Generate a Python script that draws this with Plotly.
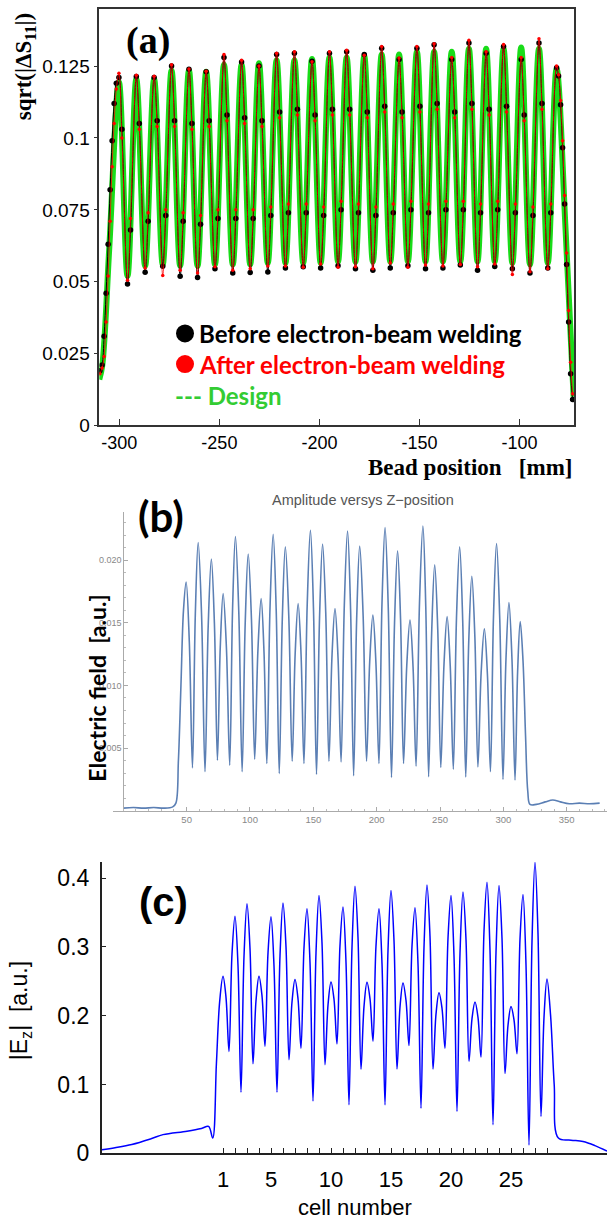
import plotly.graph_objects as go

W, H = 607, 1232

# ---------------- Panel (a): bead-pull sqrt(|dS11|) ----------------
A_START_X = [-309.7, -308.6, -307.6, -306.6, -305.6, -304.6, -303.6, -302.6, -301.5]
A_START_BEFORE = [0.019, 0.021, 0.031, 0.046, 0.063, 0.082, 0.099, 0.112, 0.119]
A_START_AFTER = [0.018, 0.020, 0.024, 0.036, 0.052, 0.071, 0.090, 0.105, 0.117]

A_PEAK_X = [-300.2, -291.5, -282.6, -273.9, -265.2, -256.6, -247.7, -238.9, -230.2, -221.4,
            -212.5, -203.7, -195.0, -186.4, -177.6, -168.9, -160.2, -151.3, -142.7, -133.9,
            -125.3, -116.7, -108.0, -99.2, -90.3, -81.5]
A_FALL_X = [-298.7, -290.0, -281.1, -272.4, -263.7, -255.1, -246.2, -237.4, -228.7, -219.9,
            -211.0, -202.2, -193.5, -184.9, -176.1, -167.4, -158.7, -149.8, -141.2, -132.4,
            -123.8, -115.2, -106.5, -97.7, -88.8]
A_TROUGH_X = [-295.9, -287.1, -278.3, -269.6, -260.9, -252.2, -243.3, -234.6, -225.8, -217.0,
              -208.1, -199.4, -190.7, -182.0, -173.3, -164.6, -155.8, -147.0, -138.3, -129.6,
              -121.0, -112.4, -103.6, -94.8, -85.9]
A_RISE_X = [-294.4, -285.6, -276.8, -268.1, -259.4, -250.7, -241.8, -233.1, -224.3, -215.5,
            -206.6, -197.9, -189.2, -180.5, -171.8, -163.1, -154.3, -145.5, -136.8, -128.1,
            -119.5, -110.9, -102.1, -93.3, -84.4]
A_END_X = [-80.5, -79.5, -78.5, -77.5, -76.5, -75.5, -74.5, -73.5]

A_PEAK_BEFORE = [0.1210, 0.1214, 0.1210, 0.1250, 0.1239, 0.1230, 0.1280, 0.1264, 0.1250, 0.1290,
                 0.1295, 0.1267, 0.1295, 0.1300, 0.1290, 0.1312, 0.1273, 0.1312, 0.1324, 0.1273,
                 0.1330, 0.1295, 0.1318, 0.1273, 0.1330, 0.1244]
A_FALL_BEFORE = [0.103, 0.105, 0.106, 0.106, 0.105, 0.106, 0.108, 0.107, 0.106, 0.109,
                 0.110, 0.108, 0.110, 0.110, 0.109, 0.111, 0.109, 0.111, 0.112, 0.109,
                 0.112, 0.110, 0.111, 0.108, 0.112]
A_TROUGH_BEFORE = [0.0492, 0.0533, 0.0554, 0.0519, 0.0515, 0.0545, 0.0530, 0.0532, 0.0534, 0.0548,
                   0.0552, 0.0548, 0.0556, 0.0545, 0.0540, 0.0548, 0.0556, 0.0545, 0.0548, 0.0558,
                   0.0540, 0.0553, 0.0545, 0.0530, 0.0548]
A_RISE_BEFORE = [0.068, 0.071, 0.073, 0.071, 0.070, 0.072, 0.072, 0.072, 0.073, 0.074,
                 0.074, 0.073, 0.075, 0.074, 0.073, 0.074, 0.075, 0.074, 0.075, 0.075,
                 0.074, 0.075, 0.074, 0.073, 0.074]
A_END_BEFORE = [0.1216, 0.1116, 0.0966, 0.077, 0.056, 0.036, 0.018, 0.009]

A_PEAK_AFTER = [0.1225, 0.1218, 0.1215, 0.1255, 0.1240, 0.1232, 0.1290, 0.1270, 0.1250, 0.1295,
                0.1300, 0.1265, 0.1300, 0.1305, 0.1288, 0.1318, 0.1278, 0.1318, 0.1328, 0.1280,
                0.1340, 0.1300, 0.1325, 0.1280, 0.1345, 0.1250]
A_FALL_AFTER = [0.100, 0.103, 0.104, 0.104, 0.103, 0.104, 0.106, 0.105, 0.104, 0.107,
                0.108, 0.106, 0.108, 0.108, 0.107, 0.109, 0.107, 0.109, 0.110, 0.107,
                0.110, 0.108, 0.109, 0.106, 0.110]
A_TROUGH_AFTER = [0.0505, 0.0548, 0.0522, 0.0540, 0.0530, 0.0552, 0.0540, 0.0545, 0.0555, 0.0555,
                  0.0550, 0.0562, 0.0550, 0.0552, 0.0545, 0.0565, 0.0550, 0.0558, 0.0555, 0.0560,
                  0.0552, 0.0562, 0.0525, 0.0535, 0.0545]
A_RISE_AFTER = [0.072, 0.074, 0.075, 0.074, 0.073, 0.075, 0.075, 0.075, 0.076, 0.077,
                0.077, 0.076, 0.078, 0.077, 0.076, 0.077, 0.078, 0.077, 0.078, 0.078,
                0.077, 0.078, 0.077, 0.076, 0.077]
A_END_AFTER = [0.122, 0.113, 0.099, 0.080, 0.060, 0.040, 0.022, 0.011]

A_DESIGN_START_X = [-310.0, -308.5, -305.0]
A_DESIGN_START_Y = [0.016, 0.021, 0.062]
A_DESIGN_PEAK = [0.1195, 0.1205, 0.1205, 0.1235, 0.1235, 0.1230, 0.1255, 0.1255, 0.1260, 0.1270,
                 0.1270, 0.1275, 0.1280, 0.1280, 0.1285, 0.1290, 0.1290, 0.1300, 0.1300, 0.1300,
                 0.1310, 0.1310, 0.1310, 0.1315, 0.1310, 0.1240]
A_DESIGN_TROUGH = [0.0520, 0.0555, 0.0560, 0.0555, 0.0555, 0.0560, 0.0560, 0.0560, 0.0565, 0.0565,
                   0.0565, 0.0565, 0.0570, 0.0570, 0.0570, 0.0570, 0.0570, 0.0570, 0.0570, 0.0570,
                   0.0570, 0.0570, 0.0565, 0.0560, 0.0565]
A_DESIGN_END_X = [-77.0, -73.0]
A_DESIGN_END_Y = [0.068, 0.010]

A_XTICKS = [-300, -250, -200, -150, -100]
A_XTICK_TEXT = ["-300", "-250", "-200", "-150", "-100"]
A_YTICKS = [0, 0.025, 0.05, 0.075, 0.1, 0.125]
A_YTICK_TEXT = ["0", "0.025", "0.05", "0.075", "0.1", "0.125"]

# ---------------- Panel (b): electric field vs Z ----------------
B_START_X = [0, 8, 16, 24, 32, 39, 41.5, 43.5, 45.5, 47.5]
B_START_Y = [0.0002, 0.00025, 0.0002, 0.00025, 0.0002, 0.0003, 0.0006, 0.0040, 0.0100, 0.0160]
B_PEAK_X = [49.6, 59.1, 69.5, 78.8, 88.5, 98.6, 108.8, 118.3, 127.9, 138.0, 147.7, 157.3, 167.1, 177.0,
            186.6, 197.0, 206.6, 216.5, 226.3, 236.5, 245.8, 255.6, 265.5, 275.1, 285.0, 294.6, 304.4, 313.3]
B_PEAK_Y = [0.01826, 0.02142, 0.0201, 0.01734, 0.0219, 0.0205, 0.01694, 0.02208, 0.02108, 0.01655,
            0.0224, 0.0213, 0.01615, 0.02234, 0.02113, 0.01562, 0.02261, 0.02076, 0.01523, 0.02274,
            0.01963, 0.0155, 0.02108, 0.01873, 0.01452, 0.02134, 0.01662, 0.0151]
B_MDOWN_X = [52.1, 61.8, 71.9, 81.4, 91.15, 101.15, 111.05, 120.7, 130.6, 140.3, 150.1, 159.8, 169.5,
             179.4, 189.3, 199.4, 209.15, 218.85, 228.7, 238.75, 248.2, 258.05, 267.9, 277.5, 287.4,
             297.15, 306.8]
B_MDOWN_Y = [0.0135, 0.0156, 0.0150, 0.0130, 0.0159, 0.0153, 0.0127, 0.0160, 0.0156, 0.0125, 0.0162,
             0.0158, 0.0122, 0.0161, 0.0156, 0.0118, 0.0162, 0.0153, 0.0115, 0.0163, 0.0145, 0.0116,
             0.0152, 0.0139, 0.0109, 0.0153, 0.0121]
B_TROUGH_X = [54.6, 64.5, 74.3, 84.0, 93.8, 103.7, 113.3, 123.1, 133.3, 142.6, 152.5, 162.3, 171.9,
              181.8, 192.0, 201.8, 211.7, 221.2, 231.1, 241.0, 250.6, 260.5, 270.3, 279.9, 289.8,
              299.7, 309.2]
B_TROUGH_Y = [0.00342, 0.00311, 0.00403, 0.00364, 0.00311, 0.00411, 0.00377, 0.00297, 0.00395,
              0.00377, 0.00289, 0.00395, 0.0039, 0.00279, 0.00395, 0.00377, 0.00266, 0.00377,
              0.00356, 0.00271, 0.00345, 0.00332, 0.00269, 0.0035, 0.00311, 0.0025, 0.00245]
B_MUP_X = [56.85, 67.0, 76.55, 86.25, 96.2, 106.25, 115.8, 125.5, 135.65, 145.15, 154.9, 164.7,
           174.45, 184.2, 194.5, 204.2, 214.1, 223.75, 233.8, 243.4, 253.1, 263.0, 272.7, 282.45,
           292.2, 302.05, 311.25]
B_MUP_Y = [0.0157, 0.0147, 0.0131, 0.0161, 0.0149, 0.0128, 0.0162, 0.0153, 0.0125, 0.0164, 0.0154,
           0.0123, 0.0164, 0.0153, 0.0119, 0.0166, 0.0150, 0.0116, 0.0166, 0.0142, 0.0116, 0.0154,
           0.0136, 0.0110, 0.0155, 0.0121, 0.0111]
B_END_X = [315.5, 317.5, 319.3, 321, 326, 333, 339, 345, 352, 360, 368, 376]
B_END_Y = [0.0120, 0.0060, 0.0015, 0.0005, 0.0005, 0.0007, 0.00085, 0.0007, 0.00055, 0.0006, 0.00055, 0.0006]

B_XTICKS = [50, 100, 150, 200, 250, 300, 350]
B_YTICKS = [0.005, 0.010, 0.015, 0.020]
B_YTICK_TEXT = ["0.005", "0.010", "0.015", "0.020"]

# ---------------- Panel (c): |Ez| vs cell number ----------------
C_START_X = [-9.1, -8.0, -6.6, -5.0, -4.0, -2.0, -0.8, -0.2, 0.14, 0.45, 0.72]
C_START_Y = [0.005, 0.008, 0.0127, 0.021, 0.027, 0.032, 0.036, 0.039, 0.022, 0.13, 0.22]
C_PEAK_X = [1, 2, 3, 4, 5, 6, 7, 8, 9, 10, 11, 12, 13, 14, 15, 16, 17, 18, 19, 20, 21, 22, 23, 24,
            25, 26, 27, 28]
C_PEAK_Y = [0.2573, 0.3446, 0.3629, 0.2573, 0.3437, 0.3639, 0.2525, 0.3556, 0.3748, 0.2491, 0.3580,
            0.3883, 0.2487, 0.3556, 0.3820, 0.2477, 0.3571, 0.3902, 0.2333, 0.3748, 0.3797, 0.2199,
            0.3940, 0.3892, 0.2132, 0.3763, 0.4228, 0.2534]
C_MDOWN_X = [1.25, 2.25, 3.25, 4.25, 5.25, 6.25, 7.25, 8.25, 9.25, 10.25, 11.25, 12.25, 13.25, 14.25,
             15.25, 16.25, 17.25, 18.25, 19.25, 20.25, 21.25, 22.25, 23.25, 24.25, 25.25, 26.25, 27.25]
C_MDOWN_Y = [0.2267, 0.2729, 0.2977, 0.2288, 0.2722, 0.3001, 0.2246, 0.2773, 0.3059, 0.2239, 0.2774,
             0.3137, 0.2246, 0.2757, 0.3093, 0.2222, 0.2755, 0.3152, 0.2108, 0.2869, 0.3108, 0.1975,
             0.2953, 0.3126, 0.1940, 0.2742, 0.3194]
C_TROUGH_X = [1.5, 2.5, 3.5, 4.5, 5.5, 6.5, 7.5, 8.5, 9.5, 10.5, 11.5, 12.5, 13.5, 14.5, 15.5, 16.5,
              17.5, 18.5, 19.5, 20.5, 21.5, 22.5, 23.5, 24.5, 25.5, 26.5, 27.5]
C_TROUGH_Y = [0.148, 0.0885, 0.130, 0.1556, 0.0885, 0.136, 0.1528, 0.0760, 0.1288, 0.159, 0.0703,
              0.122, 0.1628, 0.0703, 0.1223, 0.1566, 0.0655, 0.1223, 0.1528, 0.0607, 0.1336, 0.1398,
              0.0415, 0.1158, 0.1446, 0.0118, 0.0535]
C_MUP_X = [1.75, 2.75, 3.75, 4.75, 5.75, 6.75, 7.75, 8.75, 9.75, 10.75, 11.75, 12.75, 13.75, 14.75,
           15.75, 16.75, 17.75, 18.75, 19.75, 20.75, 21.75, 22.75, 23.75, 24.75, 25.75, 26.75, 27.75]
C_MUP_Y = [0.2896, 0.2861, 0.2217, 0.2910, 0.2868, 0.2199, 0.2988, 0.2911, 0.2154, 0.3023, 0.2993,
           0.2132, 0.3016, 0.2947, 0.2126, 0.3010, 0.2993, 0.2022, 0.3126, 0.2904, 0.1957, 0.3228,
           0.2918, 0.1859, 0.3114, 0.3077, 0.1974]
C_END_X = [28.3, 28.6, 28.95, 30.0, 31.0, 32.0, 33.0]
C_END_Y = [0.20, 0.10, 0.022, 0.019, 0.017, 0.011, 0.003]

C_XTICKS = [1, 5, 10, 15, 20, 25]
C_XTICK_TEXT = ["1", "5", "10", "15", "20", "25"]
C_XMINOR = list(range(1, 29))
C_YTICKS = [0, 0.1, 0.2, 0.3, 0.4]
C_YTICK_TEXT = ["0", "0.1", "0.2", "0.3", "0.4"]


def interleave(*lists):
    out = []
    n = max(len(l) for l in lists)
    for i in range(n):
        for l in lists:
            if i < len(l):
                out.append(l[i])
    return out


def px(x):
    return x / W


def py(y):
    return 1 - y / H


fig = go.Figure()

# ---- (a) traces ----
a_x = A_START_X + interleave(A_PEAK_X, A_FALL_X, A_TROUGH_X, A_RISE_X) + A_END_X
a_before = A_START_BEFORE + interleave(A_PEAK_BEFORE, A_FALL_BEFORE, A_TROUGH_BEFORE, A_RISE_BEFORE) + A_END_BEFORE
a_after = A_START_AFTER + interleave(A_PEAK_AFTER, A_FALL_AFTER, A_TROUGH_AFTER, A_RISE_AFTER) + A_END_AFTER
d_x = A_DESIGN_START_X + interleave(A_PEAK_X, A_TROUGH_X) + A_DESIGN_END_X
d_y = A_DESIGN_START_Y + interleave(A_DESIGN_PEAK, A_DESIGN_TROUGH) + A_DESIGN_END_Y

fig.add_trace(go.Scatter(x=d_x, y=d_y, mode="lines", line=dict(color="rgb(25,220,25)", width=6, shape="spline"),
                         xaxis="x", yaxis="y", showlegend=False, name="Design"))
fig.add_trace(go.Scatter(x=a_x, y=a_before, mode="lines+markers",
                         line=dict(color="black", width=1, shape="spline"),
                         marker=dict(color="black", size=5.5),
                         xaxis="x", yaxis="y", showlegend=False, name="Before"))
fig.add_trace(go.Scatter(x=a_x, y=a_after, mode="lines+markers",
                         line=dict(color="red", width=0.8, shape="spline"),
                         marker=dict(color="red", size=3.5),
                         xaxis="x", yaxis="y", showlegend=False, name="After"))

# ---- (b) trace ----
b_x = B_START_X + interleave(B_PEAK_X, B_MDOWN_X, B_TROUGH_X, B_MUP_X) + B_END_X
b_y = B_START_Y + interleave(B_PEAK_Y, B_MDOWN_Y, B_TROUGH_Y, B_MUP_Y) + B_END_Y
fig.add_trace(go.Scatter(x=b_x, y=b_y, mode="lines", line=dict(color="#5b7fb4", width=1.6, shape="spline"),
                         xaxis="x2", yaxis="y2", showlegend=False))

# ---- (c) trace ----
c_x = C_START_X + interleave(C_PEAK_X, C_MDOWN_X, C_TROUGH_X, C_MUP_X) + C_END_X
c_y = C_START_Y + interleave(C_PEAK_Y, C_MDOWN_Y, C_TROUGH_Y, C_MUP_Y) + C_END_Y
fig.add_trace(go.Scatter(x=c_x, y=c_y, mode="lines", line=dict(color="#0000ff", width=1.5, shape="spline"),
                         xaxis="x3", yaxis="y3", showlegend=False))

tickfont_a = dict(family="Liberation Sans", size=18, color="black")

layout = dict(
    width=W, height=H, margin=dict(l=0, r=0, t=0, b=0),
    paper_bgcolor="white", plot_bgcolor="rgba(0,0,0,0)", showlegend=False,
    # (a)
    xaxis=dict(domain=[px(99.3), px(574)], range=[-310, -72.8], anchor="y",
               showline=True, mirror=True, linecolor="#333", linewidth=1.5,
               ticks="inside", ticklen=7, tickcolor="#333", tickvals=A_XTICKS, ticktext=A_XTICK_TEXT,
               tickfont=tickfont_a, showgrid=False, zeroline=False),
    yaxis=dict(domain=[py(430), py(9)], range=[0, 0.1449], anchor="x",
               showline=True, mirror=True, linecolor="#333", linewidth=1.5,
               ticks="outside", ticklen=4, tickcolor="#333", tickvals=A_YTICKS, ticktext=A_YTICK_TEXT,
               tickfont=dict(family="Liberation Sans", size=19, color="black"),
               showgrid=False, zeroline=False),
    # (b)
    xaxis2=dict(domain=[px(113), 1.0], range=[-8.13, 381.8], anchor="y2",
                showline=True, linecolor="#aaa", linewidth=1,
                ticks="inside", ticklen=4, tickcolor="#aaa", tickvals=B_XTICKS,
                minor=dict(tickmode="linear", tick0=0, dtick=10, ticks="inside", ticklen=2, tickcolor="#bbb"),
                tickfont=dict(family="Liberation Sans", size=9.5, color="#888"),
                showgrid=False, zeroline=False),
    yaxis2=dict(domain=[py(819.3), py(517.3)], range=[0, 0.02387], anchor="free", position=px(123.3),
                showline=True, linecolor="#aaa", linewidth=1,
                ticks="inside", ticklen=4, tickcolor="#aaa", tickvals=B_YTICKS, ticktext=B_YTICK_TEXT,
                minor=dict(tickmode="linear", tick0=0, dtick=0.001, ticks="inside", ticklen=2, tickcolor="#bbb"),
                tickfont=dict(family="Liberation Sans", size=9, color="#888"),
                showgrid=False, zeroline=False),
    # (c)
    xaxis3=dict(domain=[px(101.7), 1.0], range=[-9.108, 33.0], anchor="y3",
                showline=True, linecolor="#222", linewidth=1.5,
                ticks="inside", ticklen=5, tickcolor="#222", tickvals=C_XTICKS, ticktext=C_XTICK_TEXT,
                minor=dict(tickmode="array", tickvals=C_XMINOR, ticks="inside", ticklen=5, tickcolor="#222"),
                ticklabelstandoff=6,
                tickfont=dict(family="Liberation Sans", size=22, color="black"),
                showgrid=False, zeroline=False),
    yaxis3=dict(domain=[py(1165.5), py(870.7)], range=[0, 0.4242], anchor="x3",
                showline=True, linecolor="#222", linewidth=1.5,
                ticks="inside", ticklen=5, tickcolor="#222", tickvals=C_YTICKS, ticktext=C_YTICK_TEXT,
                ticklabelstandoff=6,
                tickfont=dict(family="Liberation Sans", size=23, color="black"),
                showgrid=False, zeroline=False),
)
fig.update_layout(**layout)


def ann(text, x, y, font, xanchor="center", yanchor="middle", angle=0):
    fig.add_annotation(text=text, x=px(x), y=py(y), xref="paper", yref="paper", showarrow=False,
                       xanchor=xanchor, yanchor=yanchor, textangle=angle, font=font)


serif_b = "Liberation Serif"
ann("<b>(a)</b>", 148, 41, dict(family=serif_b, size=38, color="black"))
ann("<b>sqrt(|ΔS<sub>11</sub>|)</b>", 25, 67, dict(family=serif_b, size=23, color="black"), angle=-90)
ann("<b>Bead position\u00a0\u00a0\u00a0[mm]</b>", 574, 458, dict(family=serif_b, size=23, color="black"),
    xanchor="right", yanchor="top")

# legend of panel (a)
leg_font = "Lato"
ann("<b>Before electron-beam welding</b>", 197, 337, dict(family=leg_font, size=24, color="black"), xanchor="left")
ann("<b>After electron-beam welding</b>", 197, 368, dict(family=leg_font, size=24, color="#ff0000"), xanchor="left")
ann("<b>--- Design</b>", 173, 400, dict(family=leg_font, size=24, color="#33cc33"), xanchor="left")
for yy, col in [(337, "black"), (368, "#ff0000")]:
    fig.add_shape(type="circle", xref="paper", yref="paper", xsizemode="pixel", ysizemode="pixel",
                  xanchor=px(185), yanchor=py(yy), x0=-9, x1=9, y0=-9, y1=9,
                  fillcolor=col, line=dict(color=col, width=0))

# panel (b) labels
ann("Amplitude versys Z\u2212position", 363, 505, dict(family="Liberation Sans", size=14.5, color="#555"))
ann("<b>(b)</b>", 161, 521, dict(family="Lato", size=42, color="black"))
ann("<b>Electric field\u00a0\u00a0[a.u.]</b>", 97, 695, dict(family="Lato", size=23, color="black"), angle=-90)

# panel (c) labels
ann("<b>(c)</b>", 163, 912, dict(family="Liberation Sans", size=40, color="black"))
ann("|E<sub>z</sub>|\u00a0\u00a0[a.u.]", 20, 1022, dict(family="Liberation Sans", size=23, color="black"), angle=-90)
ann("cell number", 355, 1220, dict(family="Liberation Sans", size=22, color="black"))

fig.write_html("out.html")
